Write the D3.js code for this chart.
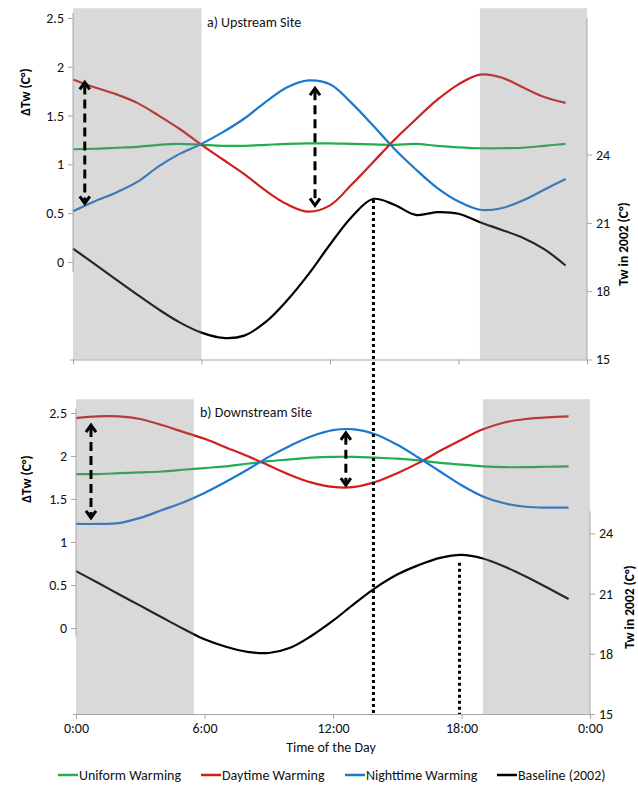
<!DOCTYPE html>
<html>
<head>
<meta charset="utf-8">
<script src="https://cdn.jsdelivr.net/npm/d3@7"></script>
<style>
  html, body { margin: 0; padding: 0; background: #fff; }
  svg { display: block; font-family: Carlito, Lato, "Open Sans", sans-serif; }
</style>
</head>
<body>
<svg id="chart" width="638" height="787"></svg>
<script>
// ---------------- DATA ----------------
const hours = [0,1,2,3,4,5,6,7,8,9,10,11,12,13,14,15,16,17,18,19,20,21,22,23];
const xTickValues = [0, 6, 12, 18, 24];
const xTickLabels = ["0:00", "6:00", "12:00", "18:00", "0:00"];
const leftTicks = [0, 0.5, 1, 1.5, 2, 2.5];
const rightTicks = [15, 18, 21, 24];

// a) Upstream Site
const upUniform   = [1.155,1.16,1.17,1.18,1.2,1.21,1.2,1.19,1.19,1.2,1.21,1.215,1.215,1.21,1.205,1.2,1.21,1.19,1.175,1.165,1.165,1.17,1.19,1.21];
const upDaytime   = [1.87,1.79,1.72,1.63,1.5,1.36,1.2,1.05,0.9,0.73,0.59,0.515,0.58,0.79,1.02,1.25,1.46,1.66,1.82,1.92,1.89,1.79,1.69,1.63];
const upNighttime = [0.52,0.62,0.71,0.82,0.98,1.11,1.21,1.33,1.47,1.64,1.79,1.86,1.82,1.63,1.4,1.16,0.95,0.76,0.62,0.535,0.55,0.63,0.74,0.85];
const upBaseline  = [19.87,19.2,18.52,17.85,17.2,16.62,16.18,15.95,16.05,16.65,17.6,18.75,20.05,21.25,22.05,21.8,21.35,21.47,21.4,21.03,20.7,20.35,19.85,19.13];

// b) Downstream Site
const downUniform   = [1.79,1.79,1.8,1.81,1.82,1.84,1.86,1.88,1.91,1.94,1.96,1.98,1.99,1.99,1.98,1.97,1.95,1.92,1.9,1.88,1.87,1.87,1.875,1.88];
const downDaytime   = [2.44,2.46,2.46,2.43,2.36,2.28,2.2,2.1,2.0,1.89,1.78,1.69,1.64,1.64,1.7,1.8,1.92,2.06,2.19,2.31,2.39,2.43,2.45,2.46];
const downNighttime = [1.21,1.21,1.22,1.28,1.37,1.46,1.57,1.7,1.84,1.99,2.12,2.23,2.3,2.31,2.25,2.13,1.98,1.82,1.66,1.53,1.45,1.41,1.4,1.4];
const downBaseline  = [22.12,21.55,20.97,20.4,19.82,19.25,18.72,18.35,18.1,18.04,18.3,18.9,19.65,20.5,21.3,21.95,22.42,22.78,22.93,22.75,22.35,21.85,21.3,20.73];

// night shading (hour ranges) and their top (in ΔTw units)
const upShade = [[0, 6], [19, 24]];
const downShade = [[0, 5.5], [19, 24]];

// double-headed dashed arrows: [hour, top ΔTw, bottom ΔTw]
const upArrows = [[0.55, 1.84, 0.6], [11.3, 1.78, 0.58]];
const downArrows = [[0.7, 2.36, 1.28], [12.6, 2.27, 1.66]];

const seriesNames = ["Uniform Warming", "Daytime Warming", "Nighttime Warming", "Baseline (2002)"];
const seriesColors = ["#22ad4e", "#d01e1e", "#1b78cf", "#000000"];

// ---------------- DRAW ----------------
const svg = d3.select("#chart");
const FONT = 14;

function panel(cfg) {
  const g = svg.append("g");
  const x = d3.scaleLinear().domain([0, 24]).range([cfg.x0, cfg.x1]);
  const yL = d3.scaleLinear().domain([-1, 2.5]).range([cfg.yb, cfg.yt]);
  const yR = d3.scaleLinear().domain([15, 30]).range([cfg.yb, cfg.yt]);

  const lineL = d3.line().x((d, i) => x(hours[i])).y(d => yL(d)).curve(d3.curveCatmullRom.alpha(0.5));
  const lineR = d3.line().x((d, i) => x(hours[i])).y(d => yR(d)).curve(d3.curveCatmullRom.alpha(0.5));

  const sets = [cfg.uniform, cfg.daytime, cfg.nighttime];
  sets.forEach((s, k) => {
    g.append("path").attr("d", lineL(s)).attr("fill", "none")
      .attr("stroke", seriesColors[k]).attr("stroke-width", 2.2);
  });
  g.append("path").attr("d", lineR(cfg.baseline)).attr("fill", "none")
    .attr("stroke", seriesColors[3]).attr("stroke-width", 2.2);

  // shading overlay
  cfg.shade.forEach(([a, b]) => {
    g.append("rect").attr("x", x(a)).attr("width", x(b) - x(a))
      .attr("y", yL(cfg.shadeTop)).attr("height", yL(-1) - yL(cfg.shadeTop))
      .attr("fill", "#808080").attr("fill-opacity", 0.3);
  });

  // axes
  const axisColor = "#a6a6a6";
  const ax = g.append("g").attr("transform", `translate(${cfg.x0},0)`)
    .call(d3.axisLeft(yL).tickValues(leftTicks).tickSize(5).tickPadding(4).tickFormat(d => String(d)));
  ax.select(".domain").remove();
  ax.append("line").attr("x1", 0).attr("x2", 0).attr("y1", yL(2.55)).attr("y2", yL(-0.1)).attr("stroke", axisColor);

  const ar = g.append("g").attr("transform", `translate(${cfg.x1},0)`)
    .call(d3.axisRight(yR).tickValues(rightTicks).tickSize(5).tickPadding(4));
  ar.select(".domain").remove();
  ar.append("line").attr("x1", 0).attr("x2", 0).attr("y1", yR(cfg.rightTop)).attr("y2", yR(15)).attr("stroke", axisColor);

  const axb = g.append("g").attr("transform", `translate(0,${cfg.yb})`)
    .call(d3.axisBottom(x).tickValues(xTickValues).tickSize(5).tickPadding(4)
      .tickFormat((d, i) => cfg.showX ? xTickLabels[i] : ""));
  axb.select(".domain").attr("stroke", axisColor).attr("d", `M${cfg.x0 - 3},0.5H${cfg.x1}`);

  [ax, ar, axb].forEach(a => {
    a.selectAll(".tick line").attr("stroke", axisColor);
    a.selectAll(".tick text").attr("fill", "#111").style("font-size", FONT + "px");
    a.attr("font-family", null).attr("font-size", null);
  });

  // title
  g.append("text").attr("x", cfg.titleX).attr("y", cfg.titleY).text(cfg.title)
    .style("font-size", "14px").attr("fill", "#111");

  // axis titles
  g.append("text").attr("transform", `translate(${cfg.lLabX},${cfg.lLabY}) rotate(-90)`)
    .attr("text-anchor", "middle").attr("dominant-baseline", "middle")
    .style("font-size", "13.5px").style("font-weight", "bold").text("ΔTw (C°)");
  g.append("text").attr("transform", `translate(${cfg.rLabX},${cfg.rLabY}) rotate(-90)`)
    .attr("text-anchor", "middle").attr("dominant-baseline", "middle")
    .style("font-size", "13.5px").style("font-weight", "bold").text("Tw in 2002 (C°)");

  // dashed double arrows
  cfg.arrows.forEach(([h, vTop, vBot]) => {
    const px = x(h), yT = yL(vTop), yB = yL(vBot);
    g.append("line").attr("x1", px).attr("x2", px).attr("y1", yT + 3).attr("y2", yB - 3)
      .attr("stroke", "#000").attr("stroke-width", 3).attr("stroke-dasharray", "9,5");
    g.append("path").attr("d", `M${px - 5},${yT + 7}L${px},${yT}L${px + 5},${yT + 7}`)
      .attr("fill", "none").attr("stroke", "#000").attr("stroke-width", 3);
    g.append("path").attr("d", `M${px - 5},${yB - 7}L${px},${yB}L${px + 5},${yB - 7}`)
      .attr("fill", "none").attr("stroke", "#000").attr("stroke-width", 3);
  });

  return { x, yL, yR };
}

const panelA = panel({
  x0: 73, x1: 587, yt: 18, yb: 359.5, rightTop: 30, shadeTop: 2.6,
  uniform: upUniform, daytime: upDaytime, nighttime: upNighttime, baseline: upBaseline,
  shade: upShade, arrows: upArrows, showX: false,
  title: "a) Upstream Site", titleX: 207, titleY: 27,
  lLabX: 27, lLabY: 92, rLabX: 625, rLabY: 244
});
const panelB = panel({
  x0: 76, x1: 590, yt: 413, yb: 714, rightTop: 25.1, shadeTop: 2.66,
  uniform: downUniform, daytime: downDaytime, nighttime: downNighttime, baseline: downBaseline,
  shade: downShade, arrows: downArrows, showX: true,
  title: "b) Downstream Site", titleX: 200, titleY: 417,
  lLabX: 28, lLabY: 479, rLabX: 631, rLabY: 607
});

// dotted reference lines (time of baseline peaks)
const peakUp = 14, peakDown = 18;
svg.append("line")
  .attr("x1", panelA.x(peakUp) + 0.6).attr("x2", panelA.x(peakUp) + 0.6)
  .attr("y1", panelA.yR(upBaseline[hours.indexOf(peakUp)]) + 1).attr("y2", 714)
  .attr("stroke", "#000").attr("stroke-width", 3).attr("stroke-dasharray", "3,3");
svg.append("line")
  .attr("x1", panelB.x(peakDown) - 2).attr("x2", panelB.x(peakDown) - 2)
  .attr("y1", panelB.yR(downBaseline[hours.indexOf(peakDown)]) + 8).attr("y2", 714)
  .attr("stroke", "#000").attr("stroke-width", 3).attr("stroke-dasharray", "3,3");

// x-axis title
svg.append("text").attr("x", 331).attr("y", 752).attr("text-anchor", "middle")
  .style("font-size", "14px").attr("fill", "#111").text("Time of the Day");

// legend
const legendX = [58, 201, 345, 497];
const lg = svg.append("g");
seriesNames.forEach((name, i) => {
  lg.append("line").attr("x1", legendX[i]).attr("x2", legendX[i] + 20)
    .attr("y1", 775).attr("y2", 775).attr("stroke", seriesColors[i]).attr("stroke-width", 2.5);
  lg.append("text").attr("x", legendX[i] + 21).attr("y", 780)
    .style("font-size", "14px").attr("fill", "#111").text(name);
});
</script>
</body>
</html>
